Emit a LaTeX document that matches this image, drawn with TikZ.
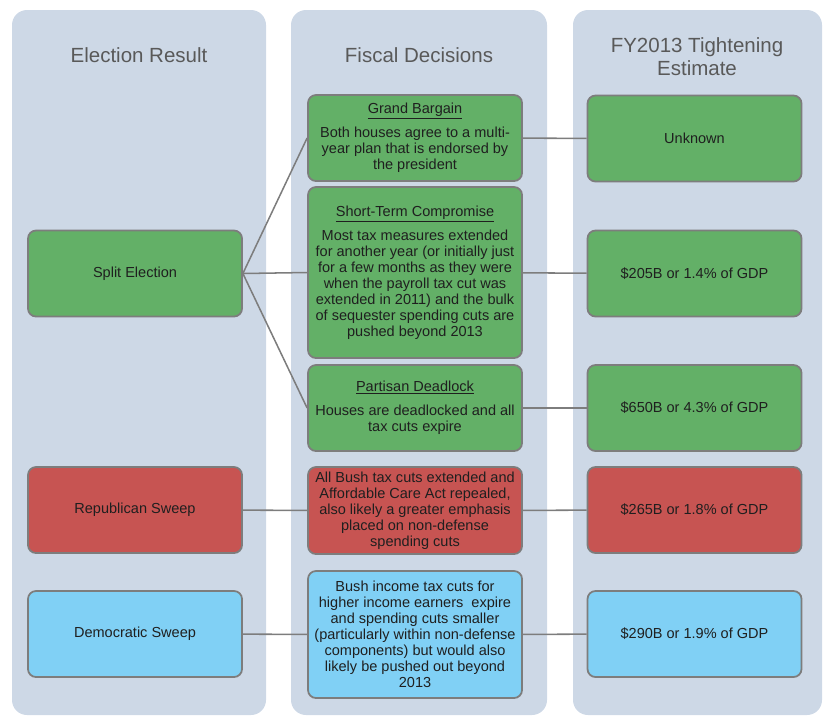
\documentclass[tikz,border=0pt]{standalone}
\usepackage{fontspec}
\setmainfont{Liberation Sans}
\definecolor{colbg}{RGB}{205,216,230}
\definecolor{boxgreen}{RGB}{99,176,103}
\definecolor{boxred}{RGB}{199,84,82}
\definecolor{boxblue}{RGB}{128,208,245}
\definecolor{edgegray}{RGB}{125,125,125}
\definecolor{headgray}{RGB}{89,89,89}
\tikzset{
  column/.style={fill=colbg, rounded corners=0.45cm},
  head/.style={text=headgray, align=center, font=\fontsize{17.5}{19.6}\selectfont},
  box/.style={draw=edgegray, line width=1.5pt, rounded corners=0.24cm,
    minimum width=6.42cm, minimum height=2.58cm, align=center,
    text=black!88, inner sep=2pt, font=\fontsize{12.4}{13.6}\selectfont},
  gbox/.style={box, fill=boxgreen},
  rbox/.style={box, fill=boxred},
  bbox/.style={box, fill=boxblue},
  link/.style={draw=edgegray, line width=1.3pt}
}
\begin{document}
\begin{tikzpicture}[x=0.03cm,y=-0.03cm]
\useasboundingbox (0,0) rectangle (823,717);
% column backgrounds
\fill[column] (12,10) rectangle (266,715);
\fill[column] (291,10) rectangle (547,715);
\fill[column] (573,10) rectangle (822,715);
% headings
\node[head] (hres) at (139,55) {Election Result};
\node[head] (hfis) at (419,55) {Fiscal Decisions};
\node[head] (hest) at (697,57) {FY2013 Tightening\\Estimate};
% election results
\node[gbox] (split) at (135,273.5) {Split Election};
\node[rbox] (rep) at (135,510) {Republican Sweep};
\node[bbox] (dem) at (135,634) {Democratic Sweep};
% fiscal decisions
\node[gbox] (grand) at (415,138) {\underline{Grand Bargain}\\[7pt]
  Both houses agree to a multi-\\year plan that is endorsed by\\the president};
\node[gbox, minimum height=5.13cm] (short) at (415,272.5) {\underline{Short-Term Compromise}\\[7pt]
  Most tax measures extended\\for another year (or initially just\\for a few months as they were\\
  when the payroll tax cut was\\extended in 2011) and the bulk\\of sequester spending cuts are\\pushed beyond 2013};
\node[gbox] (dead) at (415,408) {\underline{Partisan Deadlock}\\[7pt]
  Houses are deadlocked and all\\tax cuts expire};
\node[rbox, minimum height=2.61cm] (repfis) at (415,510.5) {All Bush tax cuts extended and\\
  Affordable Care Act repealed,\\also likely a greater emphasis\\placed on non-defense\\spending cuts};
\node[bbox, minimum height=3.81cm] (demfis) at (415,634.5) {Bush income tax cuts for\\
  higher income earners\ \ expire\\and spending cuts smaller\\(particularly within non-defense\\
  components) but would also\\likely be pushed out beyond\\2013};
% estimates
\node[gbox] (unk) at (694.5,138.5) {Unknown};
\node[gbox] (est1) at (694.5,273.5) {\$205B or 1.4\% of GDP};
\node[gbox] (est2) at (694.5,408) {\$650B or 4.3\% of GDP};
\node[rbox] (est3) at (694.5,510) {\$265B or 1.8\% of GDP};
\node[bbox] (est4) at (694.5,634) {\$290B or 1.9\% of GDP};
% connectors
\draw[link] (split.east) -- (grand.west);
\draw[link] (split.east) -- (short.west);
\draw[link] (split.east) -- (dead.west);
\draw[link] (rep) -- (repfis);
\draw[link] (dem) -- (demfis);
\draw[link] (grand) -- (unk);
\draw[link] (short) -- (est1);
\draw[link] (dead) -- (est2);
\draw[link] (repfis) -- (est3);
\draw[link] (demfis) -- (est4);
\end{tikzpicture}
\end{document}
